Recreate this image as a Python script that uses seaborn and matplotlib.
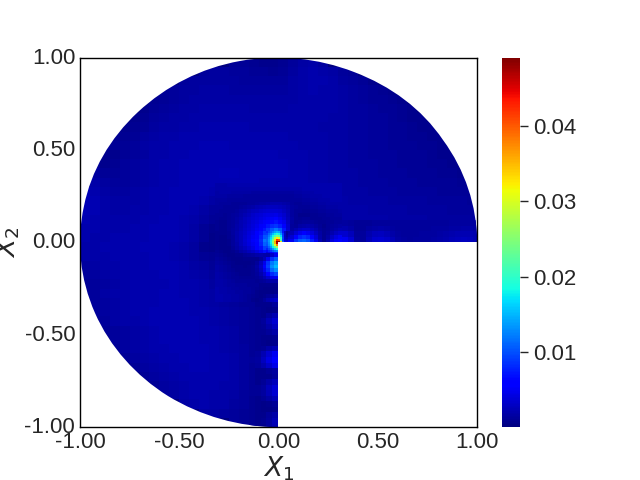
import numpy as np
import matplotlib
matplotlib.use('Agg')
import matplotlib.pyplot as plt
from matplotlib.patches import Wedge
from matplotlib.transforms import Affine2D, ScaledTranslation
import seaborn as sns

# values, in units of 1e-4
UNIT = 1e-4
VMIN, VMAX = 0.00004, 0.049

# whole domain, cells 0.05 wide, top row first (short rows are padded with 0)
base_rows = [
    [0]*15 + [10, 10, 9, 8, 8, 9, 12, 17, 19, 15],
    [0]*12 + [13, 14, 14, 13, 12, 11, 10, 9, 11, 14, 18, 20, 19, 16, 13, 10],
    [0]*10 + [12, 14, 15, 15, 14, 14, 13, 13, 12, 12, 13, 16, 19, 20, 20, 18, 15, 12, 10, 8],
    [0]*8 + [10, 12, 14, 15, 16, 16, 16, 15, 15, 14, 14, 14, 15, 17, 19, 20, 19, 18, 16, 14, 12, 10, 9, 8],
    [0]*7 + [9, 11, 13, 15, 16, 17, 17, 17, 17, 16, 16, 16, 16, 16, 17, 18, 19, 19, 18, 17, 15, 13, 11, 10, 9, 8],
    [0]*6 + [8, 10, 12, 14, 16, 17, 18, 18, 18, 18, 18, 17, 17, 17, 17, 18, 18, 18, 18, 18, 17, 15, 14, 12, 11, 10, 9, 8],
    [0]*5 + [8, 9, 12, 14, 16, 17, 18, 19, 19, 19, 19, 19, 18, 18, 18, 18, 18, 18, 18, 18, 17, 16, 15, 14, 13, 12, 10, 9, 8, 7],
    [0]*4 + [8, 9, 11, 14, 16, 17, 18, 19, 20, 20, 20, 20, 20, 19, 19, 19, 19, 19, 18, 18, 17, 17, 16, 15, 14, 13, 12, 11, 10, 9, 8, 7],
    [0]*3 + [9, 9, 11, 14, 16, 18, 19, 20, 20, 21, 21, 21, 21, 20, 20, 20, 20, 20, 19, 19, 18, 18, 17, 16, 15, 14, 13, 12, 11, 10, 9, 9, 8, 7],
    [0]*2 + [10, 10, 11, 13, 16, 18, 19, 20, 21, 21, 22, 22, 22, 21, 21, 21, 21, 21, 20, 20, 19, 19, 18, 17, 16, 15, 14, 13, 12, 11, 11, 10, 9, 9, 8, 7],
    [0]*2 + [8, 8, 10, 13, 15, 18, 19, 20, 21, 22, 22, 22, 22, 22, 22, 22, 22, 22, 21, 21, 20, 19, 18, 17, 16, 15, 14, 13, 12, 12, 11, 10, 10, 9, 8, 8],
    [0] + [10, 8, 9, 12, 15, 17, 19, 20, 21, 22, 22, 23, 23, 23, 23, 23, 23, 23, 23, 22, 21, 20, 19, 18, 17, 16, 15, 14, 14, 13, 12, 11, 11, 10, 9, 9, 8, 8],
    [0] + [14, 11, 10, 12, 15, 17, 19, 20, 21, 22, 23, 23, 23, 24, 24, 23, 23, 23, 22, 22, 21, 20, 19, 18, 17, 16, 16, 15, 14, 13, 13, 12, 11, 11, 10, 9, 9, 8],
    [0] + [18, 14, 12, 13, 15, 17, 19, 20, 21, 22, 23, 23, 23, 23, 23, 22, 22, 21, 21, 21, 21, 20, 19, 18, 17, 17, 16, 15, 15, 14, 13, 13, 12, 11, 11, 10, 10, 9],
    [24, 20, 16, 14, 15, 16, 18, 20, 21, 22, 22, 22, 22, 21, 19, 17, 15, 14, 13, 13, 14, 16, 19, 19, 18, 18, 17, 16, 16, 15, 15, 14, 13, 13, 12, 12, 11, 11, 10, 10],
    [25, 22, 19, 16, 16, 17, 18, 20, 21, 22, 22, 22, 20, 16, 13, 12, 12, 12, 13, 14, 14, 13, 13, 17, 18, 18, 18, 17, 17, 16, 16, 15, 15, 14, 14, 13, 13, 12, 12, 11],
    [24, 22, 19, 17, 17, 18, 19, 20, 21, 22, 22, 20, 16, 12, 11, 17, 22, 28, 32, 34, 32, 20, 10, 14, 17, 18, 18, 18, 18, 17, 17, 16, 16, 15, 15, 14, 14, 13, 13, 13],
    [22, 20, 19, 18, 18, 19, 20, 21, 22, 22, 21, 18, 14, 10, 12, 20, 27, 33, 41, 50, 50, 32, 11, 9, 15, 18, 19, 19, 19, 18, 18, 17, 17, 16, 16, 15, 15, 15, 14, 15],
    [20, 20, 19, 19, 19, 20, 21, 22, 22, 22, 21, 17, 11, 7, 13, 21, 30, 40, 58, 95, 90, 28, 30, 20, 10, 15, 30, 22, 14, 16, 20, 18, 16, 15, 15, 16, 17, 18, 20, 18],
    [20, 19, 19, 20, 20, 21, 21, 22, 22, 22, 20, 16, 10, 6, 13, 24, 36, 50, 90, 200, 110, 90, 100, 55, 12, 40, 55, 48, 20, 25, 32, 28, 18, 15, 16, 18, 22, 26, 28, 22],
    [19, 19, 20, 20, 21, 21, 22, 22, 22, 21, 19, 14, 8, 6, 13, 24, 36, 50, 90, 180],
    [18, 19, 19, 20, 20, 21, 21, 22, 22, 21, 19, 15, 11, 9, 7, 9, 12, 18, 25, 60],
    [15, 17, 18, 19, 20, 20, 21, 22, 22, 22, 20, 17, 14, 11, 9, 7, 7, 8, 30, 140],
    [13, 15, 17, 18, 19, 20, 21, 21, 22, 22, 21, 19, 16, 13, 11, 9, 8, 8, 20, 75],
    [10, 12, 15, 17, 19, 20, 20, 21, 21, 22, 21, 20, 18, 15, 13, 11, 10, 10, 9, 9],
    [11, 13, 16, 18, 19, 20, 21, 21, 22, 22, 21, 20, 18, 16, 14, 12, 11, 10, 7, 6],
    [0, 13, 15, 17, 19, 20, 21, 21, 22, 22, 22, 21, 19, 17, 15, 13, 11, 9, 7, 15],
    [0, 12, 14, 16, 18, 20, 21, 22, 22, 23, 22, 21, 20, 18, 16, 14, 12, 9, 7, 12],
    [0, 11, 13, 16, 18, 19, 21, 22, 22, 23, 23, 22, 20, 19, 17, 15, 12, 10, 14, 32],
    [0, 0, 10, 13, 15, 17, 19, 21, 22, 23, 23, 22, 21, 20, 18, 16, 13, 10, 10, 22],
    [0, 0, 9, 12, 15, 17, 19, 20, 22, 22, 23, 22, 21, 20, 18, 16, 13, 10, 9, 8],
    [0]*3 + [11, 14, 16, 18, 20, 21, 22, 23, 22, 22, 20, 19, 17, 14, 11, 18, 30],
    [0]*4 + [11, 14, 16, 18, 20, 21, 22, 22, 22, 21, 20, 18, 15, 13, 28, 52],
    [0]*5 + [11, 14, 16, 18, 20, 21, 22, 22, 21, 20, 18, 15, 11, 18, 30],
    [0]*6 + [11, 14, 16, 18, 20, 21, 21, 21, 20, 18, 15, 10, 9, 8],
    [0]*7 + [11, 14, 17, 19, 20, 20, 20, 19, 18, 15, 10, 13, 25],
    [0]*8 + [12, 15, 18, 20, 20, 19, 18, 16, 13, 10, 15, 32],
    [0]*10 + [16, 19, 20, 19, 18, 15, 12, 9, 10, 14],
    [0]*12 + [17, 17, 15, 13, 11, 8, 9, 14],
    [0]*15 + [13, 11, 8, 10, 18],
]

# along the x axis, cells 0.03 wide, x 0.32..1.01, y 0.12..0
right_strip = [
    [14, 12, 11, 11, 11, 12, 13, 13, 12, 12, 12, 12, 12, 12, 13, 13, 13, 13, 14, 14, 15, 15, 15],
    [20, 16, 11, 11, 14, 17, 19, 17, 14, 13, 12, 12, 12, 13, 13, 14, 14, 15, 16, 17, 18, 18, 17],
    [34, 26, 12, 12, 20, 26, 28, 25, 19, 14, 13, 12, 13, 14, 14, 15, 16, 18, 20, 22, 23, 22, 20],
    [50, 35, 14, 12, 25, 34, 36, 32, 24, 16, 14, 13, 14, 15, 15, 16, 18, 20, 24, 26, 28, 26, 22],
]

# along the y axis, cells 0.03 wide, x -0.15..0, y -0.32..-1.01
lower_strip = [
    [11, 8, 7, 8, 12],
    [11, 9, 7, 6, 7],
    [11, 9, 8, 14, 22],
    [11, 9, 13, 24, 35],
    [11, 9, 11, 18, 28],
    [11, 9, 9, 13, 18],
    [11, 9, 8, 8, 9],
    [11, 9, 7, 6, 7],
    [11, 9, 11, 18, 25],
    [11, 12, 22, 36, 50],
    [12, 15, 28, 44, 60],
    [11, 12, 20, 32, 45],
    [10, 8, 8, 10, 15],
    [10, 8, 7, 8, 12],
    [10, 8, 11, 18, 26],
    [10, 10, 15, 26, 38],
    [10, 10, 14, 25, 36],
    [9, 8, 10, 16, 25],
    [9, 7, 6, 7, 10],
    [9, 7, 6, 6, 8],
    [9, 7, 8, 12, 18],
    [9, 7, 9, 15, 25],
    [9, 7, 8, 14, 22],
]

# around the corner, cells 0.02 wide: above the x axis, x -0.32..0.32
mid_upper = [
    [19, 19, 19, 20, 20, 20, 20, 20, 20, 20, 20, 20, 20, 20, 20, 20, 20, 20, 20, 20, 20, 20, 20, 20, 20, 20, 20, 20, 20, 20, 20, 20],
    [18, 19, 19, 19, 19, 19, 19, 19, 18, 18, 18, 18, 18, 18, 18, 18, 18, 18, 18, 18, 19, 19, 20, 20, 20, 20, 20, 20, 20, 20, 20, 20],
    [17, 18, 18, 18, 17, 17, 16, 16, 16, 15, 15, 15, 15, 15, 15, 15, 15, 15, 15, 15, 16, 17, 18, 19, 19, 20, 20, 20, 20, 20, 20, 20],
    [16, 16, 16, 15, 15, 14, 14, 13, 13, 13, 13, 13, 13, 13, 13, 13, 13, 13, 13, 13, 14, 15, 16, 17, 18, 19, 19, 20, 20, 20, 20, 20],
    [15, 15, 14, 13, 13, 12, 12, 12, 12, 12, 12, 12, 12, 13, 13, 13, 13, 13, 13, 12, 12, 13, 14, 15, 16, 17, 18, 19, 19, 20, 20, 20],
    [14, 13, 12, 12, 11, 11, 11, 11, 12, 13, 14, 16, 17, 19, 20, 21, 20, 18, 16, 13, 11, 11, 12, 13, 14, 15, 16, 17, 18, 18, 19, 19],
    [13, 12, 11, 10, 10, 11, 12, 14, 16, 19, 22, 24, 26, 28, 29, 29, 27, 24, 20, 15, 12, 10, 10, 11, 12, 13, 14, 15, 16, 17, 17, 18],
    [12, 11, 10, 10, 11, 13, 16, 19, 23, 26, 29, 32, 34, 35, 36, 36, 33, 28, 22, 15, 11, 10, 9, 9, 10, 11, 12, 13, 14, 15, 15, 16],
    [11, 10, 9, 10, 12, 15, 19, 23, 27, 31, 35, 38, 41, 43, 44, 45, 39, 33, 24, 15, 10, 8, 8, 8, 9, 9, 10, 11, 12, 13, 14, 14],
    [10, 9, 9, 10, 13, 17, 21, 26, 30, 34, 38, 42, 46, 50, 52, 54, 47, 38, 27, 16, 10, 9, 10, 10, 9, 9, 9, 10, 11, 12, 13, 13],
    [9, 8, 8, 10, 13, 17, 22, 27, 32, 37, 42, 47, 53, 60, 65, 70, 60, 47, 30, 15, 9, 10, 12, 13, 12, 10, 9, 9, 10, 11, 12, 13],
    [9, 8, 8, 10, 13, 18, 23, 28, 34, 40, 46, 53, 62, 72, 82, 88, 76, 56, 33, 12, 11, 16, 19, 20, 19, 15, 11, 8, 10, 12, 14, 16],
    [9, 7, 8, 10, 14, 19, 24, 30, 36, 42, 50, 60, 72, 88, 105, 120, 105, 72, 35, 14, 20, 28, 32, 31, 27, 20, 13, 9, 10, 14, 19, 23],
    [8, 7, 7, 9, 14, 20, 26, 32, 39, 46, 56, 68, 88, 115, 148, 168, 150, 95, 38, 22, 35, 48, 54, 50, 40, 28, 16, 9, 12, 20, 28, 34],
    [8, 6, 6, 9, 13, 20, 27, 33, 41, 50, 61, 76, 100, 145, 215, 270, 240, 120, 40, 35, 60, 78, 85, 78, 60, 38, 18, 9, 16, 30, 42, 50],
    [7, 5, 6, 8, 13, 20, 27, 35, 43, 53, 65, 82, 118, 175, 310, 420, 360, 120, 40, 50, 85, 105, 110, 100, 75, 48, 22, 9, 20, 40, 52, 58],
]

# below the x axis, x -0.32..0
mid_lower = [
    [7, 5, 5, 7, 12, 19, 26, 33, 41, 50, 62, 78, 108, 170, 280, 400],
    [8, 5, 5, 6, 10, 16, 22, 29, 36, 43, 54, 68, 92, 130, 190, 230],
    [9, 7, 6, 6, 7, 11, 16, 21, 26, 32, 40, 50, 68, 88, 105, 110],
    [11, 9, 7, 6, 6, 7, 8, 10, 12, 15, 18, 20, 18, 16, 32, 50],
    [13, 11, 9, 7, 5, 5, 6, 7, 8, 8, 8, 12, 24, 50, 85, 105],
    [15, 13, 11, 9, 7, 6, 6, 6, 6, 8, 13, 26, 48, 85, 120, 140],
    [16, 14, 12, 10, 8, 7, 7, 6, 7, 9, 16, 30, 54, 92, 130, 150],
    [17, 15, 13, 11, 9, 8, 7, 7, 8, 9, 15, 27, 48, 80, 112, 130],
    [18, 16, 14, 12, 10, 9, 8, 8, 8, 9, 12, 20, 34, 56, 82, 95],
    [18, 17, 15, 13, 11, 10, 9, 9, 9, 9, 10, 14, 22, 33, 45, 50],
    [19, 18, 16, 14, 13, 11, 10, 10, 10, 10, 9, 10, 12, 16, 18, 18],
    [19, 18, 17, 15, 14, 13, 12, 12, 11, 11, 10, 8, 7, 7, 7, 7],
    [20, 19, 18, 17, 15, 14, 13, 13, 12, 11, 9, 7, 6, 5, 5, 5],
    [20, 19, 18, 17, 16, 15, 14, 13, 12, 10, 8, 6, 5, 5, 6, 7],
    [20, 20, 19, 18, 17, 16, 15, 13, 11, 9, 7, 6, 7, 10, 14, 18],
    [20, 20, 19, 18, 17, 16, 15, 13, 11, 8, 6, 7, 12, 20, 28, 33],
]

# the peak itself, cells 0.01 wide
peak_upper = [
    [80, 95, 110, 125, 140, 150, 145, 115, 70, 30, 12, 20],
    [90, 110, 130, 155, 175, 190, 180, 140, 85, 30, 10, 22],
    [100, 120, 150, 185, 220, 245, 230, 170, 90, 28, 14, 28],
    [105, 130, 165, 215, 275, 320, 300, 200, 95, 30, 20, 35],
    [110, 135, 175, 240, 330, 420, 400, 210, 90, 35, 30, 45],
    [110, 135, 180, 255, 360, 490, 480, 330, 110, 45, 40, 55],
]
peak_lower = [
    [105, 130, 175, 245, 350, 470],
    [100, 125, 160, 215, 300, 380],
    [90, 110, 140, 180, 225, 270],
    [75, 95, 115, 140, 165, 190],
    [60, 75, 90, 105, 120, 130],
    [40, 50, 60, 68, 75, 80],
]

tick_values = [-1.0, -0.5, 0.0, 0.5, 1.0]
tick_labels = ['-1.00', '-0.50', '0.00', '0.50', '1.00']
cbar_ticks = [0.01, 0.02, 0.03, 0.04]

sns.set_style('white')
plt.rcParams['font.family'] = ['Liberation Sans', 'DejaVu Sans']
plt.rcParams['font.size'] = 16

fig, ax = plt.subplots(figsize=(6.4, 4.8), dpi=100)
domain = Wedge((0, 0), 1.0, 0, 270, transform=ax.transData)


def draw_cells(rows, x_left, y_top, cell, **kwargs):
    # seaborn puts cells on integers, so move each table to its place on the axes
    sns.heatmap(np.array(rows) * UNIT, ax=ax, cmap='jet', vmin=VMIN, vmax=VMAX,
                xticklabels=False, yticklabels=False, **kwargs)
    mesh = ax.collections[-1]
    mesh.set_transform(Affine2D().scale(cell, -cell).translate(x_left, y_top) + ax.transData)
    mesh.set_clip_path(domain)


base = [r + [0] * (40 - len(r)) for r in base_rows]
draw_cells(base, -1.0, 1.0, 0.05, cbar=True, cbar_kws={'ticks': cbar_ticks})
draw_cells(right_strip, 0.32, 0.12, 0.03, cbar=False)
draw_cells(lower_strip, -0.15, -0.32, 0.03, cbar=False)
draw_cells(mid_upper, -0.32, 0.32, 0.02, cbar=False)
draw_cells(mid_lower, -0.32, 0.0, 0.02, cbar=False)
draw_cells(peak_upper, -0.06, 0.06, 0.01, cbar=False)
draw_cells(peak_lower, -0.06, 0.0, 0.01, cbar=False)

ax.set_xlim(-1, 1)
ax.set_ylim(-1, 1)
ax.set_xticks(tick_values, tick_labels, fontsize=16)
ax.set_yticks(tick_values, tick_labels, fontsize=16, rotation=0)
ax.tick_params(length=0)
ax.set_xlabel('$X_1$', fontsize=19, labelpad=1)
ax.set_ylabel('$X_2$', fontsize=19, labelpad=2)
for spine in ax.spines.values():
    spine.set_visible(True)
    spine.set_color('black')
    spine.set_linewidth(1)

# the y labels sit a little above their positions in the reference
nudge = ScaledTranslation(0, 2 / 100, fig.dpi_scale_trans)
for label in ax.get_yticklabels():
    label.set_transform(label.get_transform() + nudge)

cbar = ax.collections[0].colorbar
cbar.ax.tick_params(labelsize=16, length=6, width=1, color='.15')
cbar.ax.set_yticklabels(['0.01', '0.02', '0.03', '0.04'])

fig.savefig('out.png', dpi=100)
